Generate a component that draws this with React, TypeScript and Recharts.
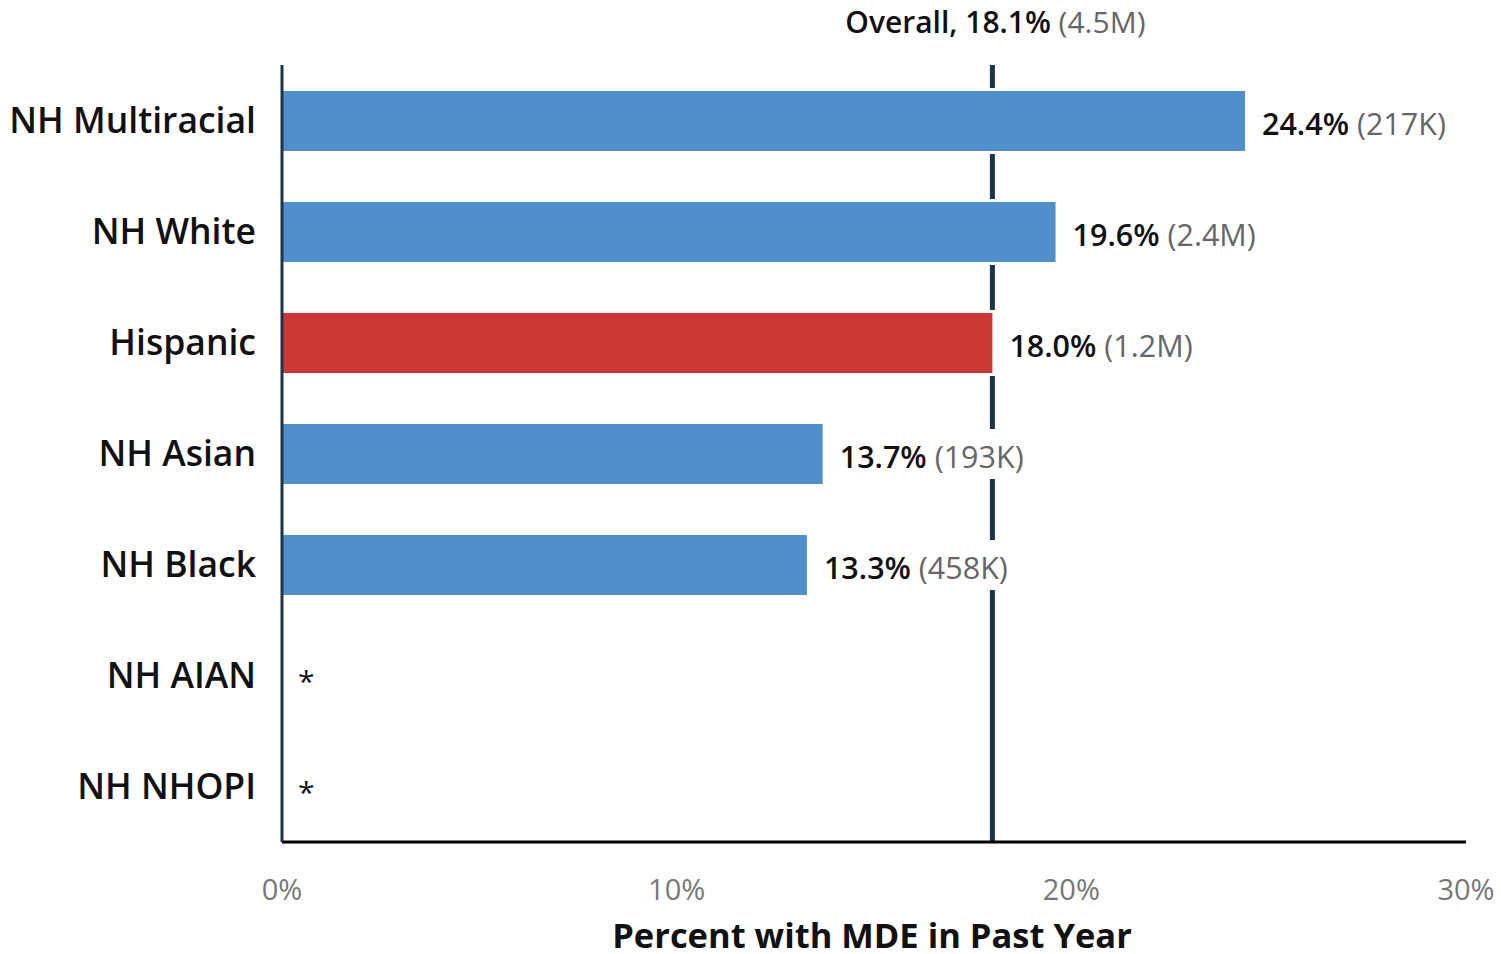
import React from 'react';
import { BarChart, Bar, XAxis, YAxis, ReferenceLine, LabelList } from 'recharts';

const categories = ['NH Multiracial', 'NH White', 'Hispanic', 'NH Asian', 'NH Black', 'NH AIAN', 'NH NHOPI'];
const percents: (number | null)[] = [24.4, 19.6, 18.0, 13.7, 13.3, null, null];
const counts: (string | null)[] = ['217K', '2.4M', '1.2M', '193K', '458K', null, null];
const highlighted = ['Hispanic'];
const xTicks = [0, 10, 20, 30];
const overallPercent = 18.1;
const overallCount = '4.5M';
const overallLinePosition = 18.0; // where the line sits in the picture
const xAxisTitle = 'Percent with MDE in Past Year';

const BLUE = '#4F90CC';
const RED = '#CC3835';
const NAVY = '#1E3448';
const FONT = "'Open Sans', 'Noto Sans', sans-serif";

const data = categories.map((c, i) => ({
  category: c,
  value: percents[i] ?? 0,
  suppressed: percents[i] === null,
  count: counts[i],
}));

const BarShape = (props: any) => {
  const { x, y, width, height, index } = props;
  if (!width || width <= 0) return <g />;
  const fill = highlighted.includes(categories[index]) ? RED : BLUE;
  return (
    <g>
      <rect x={x + 2} y={y - 3} width={width + 2} height={height + 6} fill="#ffffff" />
      <rect x={x} y={y} width={width} height={height} fill={fill} />
    </g>
  );
};

const ValueLabel = (props: any) => {
  const { x, y, width, height, index } = props;
  const cy = y + height / 2;
  if (percents[index] === null) {
    return (
      <text x={298} y={cy + 16} fontFamily={FONT} fontSize={30} fill="#111">
        *
      </text>
    );
  }
  const tx = x + width + 17;
  const pct = `${(percents[index] as number).toFixed(1)}%`;
  const cnt = ` (${counts[index]})`;
  const w = (pct.length + cnt.length) * 15.8;
  return (
    <g>
      <rect x={tx - 4} y={cy - 25} width={w + 8} height={50} fill="#ffffff" />
      <text x={tx} y={cy + 14} fontFamily={FONT} fontSize={30.5}>
        <tspan fill="#111" fontWeight={600}>{pct}</tspan>
        <tspan fill="#666">{cnt}</tspan>
      </text>
    </g>
  );
};

const YTick = (props: any) => {
  const { y, payload } = props;
  return (
    <text x={256} y={y + 12} textAnchor="end" fontFamily={FONT} fontSize={35.5} fontWeight={600} fill="#111">
      {payload.value}
    </text>
  );
};

const XTick = (props: any) => {
  const { x, y, payload } = props;
  return (
    <text x={x} y={y + 58} textAnchor="middle" fontFamily={FONT} fontSize={29} fill="#777">
      {`${payload.value}%`}
    </text>
  );
};

const XTitle = (props: any) => {
  const { viewBox } = props;
  const cx = viewBox.x + viewBox.width / 2 - 2;
  return (
    <text x={cx} y={948} textAnchor="middle" fontFamily={FONT} fontSize={34.5} fontWeight={700} fill="#111">
      {xAxisTitle}
    </text>
  );
};

const OverallLabel = (props: any) => {
  const { viewBox } = props;
  return (
    <text x={viewBox.x + 3} y={33} textAnchor="middle" fontFamily={FONT} fontSize={30}>
      <tspan fill="#111" fontWeight={600}>{`Overall, ${overallPercent.toFixed(1)}%`}</tspan>
      <tspan fill="#666">{` (${overallCount})`}</tspan>
    </text>
  );
};

export default function App() {
  return (
    <div style={{ position: 'absolute', left: 0, top: 0, background: '#fff' }}>
      <BarChart
        width={1501}
        height={954}
        data={data}
        layout="vertical"
        margin={{ top: 65, right: 35, bottom: 0, left: 0 }}
        barSize={60}
      >
        <ReferenceLine
          x={overallLinePosition}
          stroke={NAVY}
          strokeWidth={5}
          label={<OverallLabel />}
          ifOverflow="visible"
          {...({ zIndex: 0 } as any)}
        />
        <XAxis
          type="number"
          domain={[0, 30]}
          ticks={xTicks}
          height={112}
          tickLine={false}
          tickSize={0}
          tickMargin={0}
          axisLine={{ stroke: '#000', strokeWidth: 3 }}
          tick={<XTick />}
          label={<XTitle />}
        />
        <YAxis
          type="category"
          dataKey="category"
          width={282}
          tickLine={false}
          tickSize={0}
          axisLine={{ stroke: NAVY, strokeWidth: 3 }}
          tick={<YTick />}
          interval={0}
        />
        <Bar dataKey="value" shape={<BarShape />} isAnimationActive={false}>
          <LabelList dataKey="value" content={<ValueLabel />} />
        </Bar>
      </BarChart>
    </div>
  );
}
